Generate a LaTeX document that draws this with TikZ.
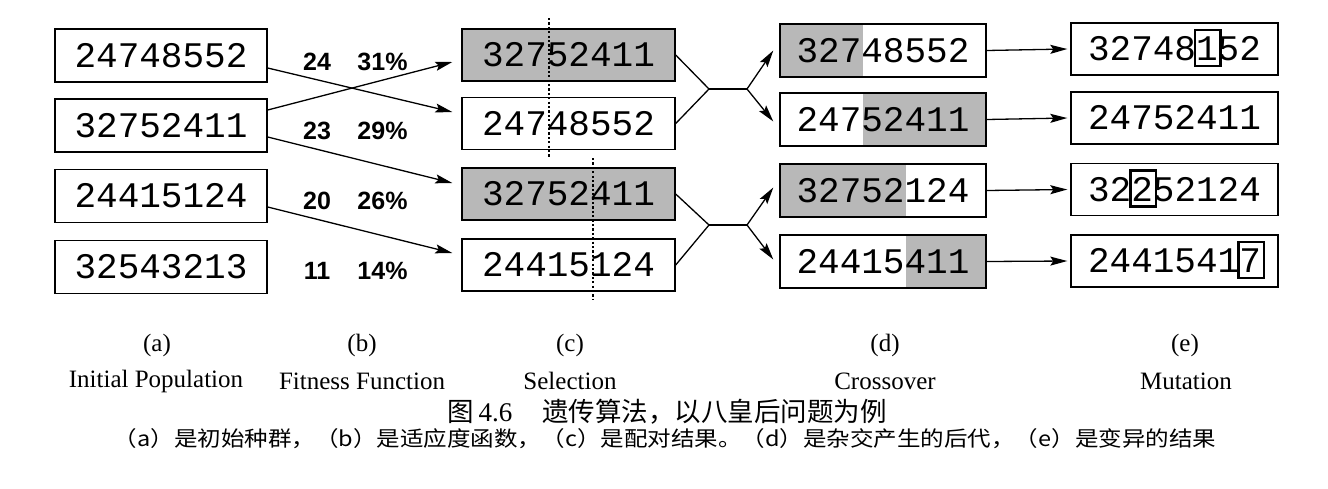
\documentclass[tikz,border=0pt]{standalone}
\usepackage{fontspec}
\setmainfont{Liberation Serif}
\newfontfamily\monof{Liberation Mono}
\newfontfamily\sansf{Liberation Sans}
\newfontfamily\cjkf{Noto Sans CJK SC}
\usetikzlibrary{arrows.meta,calc}
\definecolor{shadecol}{gray}{0.72}
\newcommand\mutd[1]{\tikz[baseline=(m.base)]{\node[inner sep=0pt,outer sep=0pt,draw=none,minimum width=0pt,minimum height=0pt](m){#1};\draw[overlay,line width=2.6pt] ([xshift=-1pt,yshift=-5pt]m.base west) rectangle ([xshift=3pt,yshift=31pt]m.base east);}}
\begin{document}
\begin{tikzpicture}[x=1pt,y=-1pt,
  box/.style={draw, line width=1.4pt, minimum height=53pt, inner sep=0pt, font=\monof\fontsize{36}{36}\selectfont},
  abox/.style={box, minimum width=212pt},
  cbox/.style={box, minimum width=213pt, minimum height=52pt},
  dbox/.style={box, minimum width=206pt},
  ebox/.style={box, minimum width=207pt, minimum height=52pt},
  fit/.style={font=\sansf\bfseries\fontsize{25}{25}\selectfont, inner sep=0pt},
  lab/.style={font=\fontsize{25}{25}\selectfont, inner sep=0pt},
  arr/.style={-{Stealth[length=17pt,width=9pt,inset=3pt]}, line width=1.3pt},
  con/.style={line width=1.3pt},
  cut/.style={line width=1.6pt, dash pattern=on 2.2pt off 2.2pt},
  lshade/.style={path picture={\fill[shadecol] (path picture bounding box.north west) rectangle ($(path picture bounding box.south west)+(#1,0)$);}},
  rshade/.style={path picture={\fill[shadecol] ($(path picture bounding box.north west)+(#1,0)$) rectangle (path picture bounding box.south east);}}
]
\useasboundingbox (0,0) rectangle (1328,488);

% (a) initial population
\node[abox] (a1) at (161,55.5) {24748552};
\node[abox] (a2) at (161,125.5) {32752411};
\node[abox] (a3) at (161,196) {24415124};
\node[abox] (a4) at (161,267) {32543213};

% (b) fitness
\node[fit] (f1) at (317,61.5) {24};  \node[fit] (p1) at (382.5,61.5) {31\%};
\node[fit] (f2) at (317,131) {23}; \node[fit] (p2) at (382.5,131) {29\%};
\node[fit] (f3) at (317,201) {20}; \node[fit] (p3) at (382.5,201) {26\%};
\node[fit] (f4) at (317,271) {11}; \node[fit] (p4) at (382.5,271) {14\%};

% (c) selection
\node[cbox, fill=shadecol] (c1) at (568.5,55) {32752411};
\node[cbox] (c2) at (568.5,123.5) {24748552};
\node[cbox, fill=shadecol] (c3) at (568.5,194) {32752411};
\node[cbox] (c4) at (568.5,265) {24415124};

% cut lines
\coordinate (k1a) at (549,18);  \coordinate (k1b) at (549,157);
\coordinate (k2a) at (593,158); \coordinate (k2b) at (593,300);
\draw[cut] (k1a) -- (k1b);
\draw[cut] (k2a) -- (k2b);

% (d) crossover
\node[dbox, lshade=83] (d1) at (883,50.5) {32748552};
\node[dbox, rshade=83] (d2) at (883,119.5) {24752411};
\node[dbox, lshade=126] (d3) at (883,190.5) {32752124};
\node[dbox, rshade=126] (d4) at (883,261.5) {24415411};

% (e) mutation
\node[ebox] (e1) at (1174.5,49) {32748\mutd{1}52};
\node[ebox] (e2) at (1174.5,118) {24752411};
\node[ebox] (e3) at (1174.5,189.5) {32\mutd{2}52124};
\node[ebox] (e4) at (1174.5,261) {2441541\mutd{7}};

% arrows a -> c
\draw[arr] ($(a2.east)+(0,-15.5)$) -- ($(c1.west)+(-9,7)$);
\draw[arr] ($(a1.east)+(0,12.5)$) -- ($(c2.west)+(-9,-11.5)$);
\draw[arr] ($(a2.east)+(0,11.5)$) -- ($(c3.west)+(-9,-11)$);
\draw[arr] ($(a3.east)+(0,11)$) -- ($(c4.west)+(-9,-12)$);

% crossover connectors
\coordinate (j1) at (709,89);  \coordinate (j1b) at (747,89);
\coordinate (j2) at (709,225); \coordinate (j2b) at (747,225);
\draw[con] (c1.east) -- (j1) -- (c2.east);
\draw[con] (j1) -- (j1b);
\draw[arr] (j1b) -- ($(d1.west)+(-6,0)$);
\draw[arr] (j1b) -- ($(d2.west)+(-6,2)$);
\draw[con] (c3.east) -- (j2) -- (c4.east);
\draw[con] (j2) -- (j2b);
\draw[arr] (j2b) -- ($(d3.west)+(-6,-3)$);
\draw[arr] (j2b) -- ($(d4.west)+(-6,-2)$);

% d -> e
\draw[arr] (d1.east) -- ($(e1.west)+(-3,0)$);
\draw[arr] (d2.east) -- ($(e2.west)+(-3,0)$);
\draw[arr] (d3.east) -- ($(e3.west)+(-3,0)$);
\draw[arr] (d4.east) -- ($(e4.west)+(-3,0)$);

% labels
\node[lab] (la) at (157,345) {(a)};
\node[lab] (lb) at (362,345) {(b)};
\node[lab] (lc) at (570,345) {(c)};
\node[lab] (ld) at (885,345) {(d)};
\node[lab] (le) at (1185,345) {(e)};
\node[lab] (na) at (156,381) {Initial Population};
\node[lab] (nb) at (362,381) {Fitness Function};
\node[lab] (nc) at (570,381) {Selection};
\node[lab] (nd) at (885,381) {Crossover};
\node[lab] (ne) at (1186,381) {Mutation};

% caption
\node[inner sep=0pt, font=\fontsize{27}{27}\selectfont] (cap) at (667,412) {{\cjkf\fontsize{26.5}{26.5}\selectfont 图}\hspace{5pt}4.6\hspace{30pt}{\cjkf\fontsize{26.5}{26.5}\selectfont 遗传算法，以八皇后问题为例}};
\node[inner sep=0pt, font=\cjkf\fontsize{21}{21}\selectfont] (sub) at (665,439) {\scalebox{1.12}[1]{（a）是初始种群，（b）是适应度函数，（c）是配对结果。（d）是杂交产生的后代，（e）是变异的结果}};
\end{tikzpicture}
\end{document}
